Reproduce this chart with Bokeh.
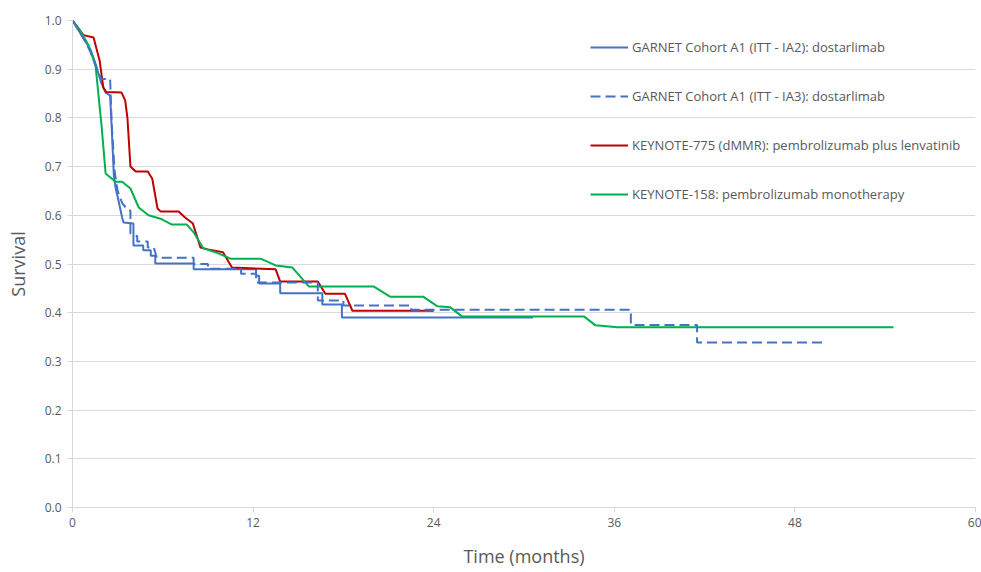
from bokeh.plotting import figure
from bokeh.models import Range1d, FixedTicker, PrintfTickFormatter, Legend, LegendItem
from bokeh.embed import file_html
from bokeh.resources import INLINE

# GARNET Cohort A1 (ITT - IA2): dostarlimab
ia2_t = [0, 0.4, 0.8, 1.2, 1.5, 1.9, 2.2, 2.5, 2.6, 2.75, 2.86, 3.06, 3.3, 3.4, 4.05, 4.05, 4.7, 4.7, 5.2, 5.2,
         5.5, 5.5, 8.05, 8.05, 12.2, 12.2, 12.4, 12.4, 13.8, 13.8, 16.6, 16.6, 17.9, 17.9, 30.6]
ia2_s = [1.0, 0.98, 0.96, 0.94, 0.914, 0.873, 0.852, 0.846, 0.784, 0.68, 0.657, 0.63, 0.595, 0.585, 0.583, 0.538,
         0.538, 0.528, 0.528, 0.517, 0.517, 0.501, 0.501, 0.489, 0.489, 0.476, 0.476, 0.46, 0.46, 0.44, 0.44,
         0.417, 0.417, 0.39, 0.39]

# GARNET Cohort A1 (ITT - IA3): dostarlimab
ia3_t = [0, 0.4, 0.8, 1.2, 1.5, 1.9, 2.0, 2.5, 2.6, 2.8, 3.0, 3.3, 3.7, 3.85, 3.85, 4.3, 4.3, 5.0, 5.0, 5.4, 5.6,
         8.05, 8.05, 9.0, 9.0, 11.2, 11.2, 12.2, 12.2, 16.3, 16.3, 18.0, 18.0, 22.5, 22.5, 37.1, 37.1, 41.5, 41.5, 49.8]
ia3_s = [1.0, 0.98, 0.96, 0.935, 0.91, 0.88, 0.88, 0.88, 0.79, 0.69, 0.65, 0.625, 0.61, 0.61, 0.563, 0.557, 0.546,
         0.546, 0.534, 0.534, 0.513, 0.513, 0.5, 0.5, 0.49, 0.49, 0.48, 0.48, 0.462, 0.462, 0.425, 0.425, 0.415,
         0.415, 0.406, 0.406, 0.375, 0.375, 0.339, 0.339]

# KEYNOTE-775 (dMMR): pembrolizumab plus lenvatinib
k775_t = [0, 0.73, 1.4, 1.8, 2.05, 2.25, 3.26, 3.5, 3.65, 3.85, 4.2, 5.0, 5.3, 5.65, 5.85, 7.05, 7.5, 8.0, 8.5,
          9.0, 10.0, 10.6, 13.5, 13.8, 16.3, 16.8, 18.1, 18.6, 24.0]
k775_s = [1.0, 0.97, 0.965, 0.918, 0.862, 0.853, 0.852, 0.836, 0.80, 0.70, 0.69, 0.69, 0.675, 0.614, 0.608, 0.608,
          0.595, 0.583, 0.534, 0.53, 0.524, 0.493, 0.489, 0.464, 0.464, 0.439, 0.439, 0.404, 0.404]

# KEYNOTE-158: pembrolizumab monotherapy
k158_t = [0, 0.5, 1.06, 1.53, 1.93, 2.2, 2.86, 3.3, 3.85, 4.4, 5.05, 5.85, 6.6, 7.6, 8.05, 8.7, 9.6, 10.5, 12.5,
          13.5, 14.6, 15.7, 20.0, 21.1, 23.3, 24.25, 25.1, 25.9, 34.0, 34.75, 36.2, 54.55]
k158_s = [1.0, 0.98, 0.949, 0.908, 0.784, 0.686, 0.669, 0.669, 0.655, 0.616, 0.6, 0.593, 0.581, 0.581, 0.565,
          0.532, 0.523, 0.511, 0.511, 0.497, 0.493, 0.454, 0.454, 0.433, 0.433, 0.413, 0.411, 0.392, 0.392, 0.374,
          0.37, 0.37]

labels = ["GARNET Cohort A1 (ITT - IA2): dostarlimab",
          "GARNET Cohort A1 (ITT - IA3): dostarlimab",
          "KEYNOTE-775 (dMMR): pembrolizumab plus lenvatinib",
          "KEYNOTE-158: pembrolizumab monotherapy"]
x_ticks = [0, 12, 24, 36, 48, 60]
y_ticks = [0.0, 0.1, 0.2, 0.3, 0.4, 0.5, 0.6, 0.7, 0.8, 0.9, 1.0]

FONT = "Open Sans"
TXT = "#595959"
GRID = "#d9d9d9"

p = figure(width=981, height=572, output_backend="svg", toolbar_location=None,
           x_range=Range1d(0, 60), y_range=Range1d(0, 1.0),
           min_border_left=72, min_border_right=6, min_border_top=20, min_border_bottom=65)
p.outline_line_color = None
p.background_fill_color = "white"

p.xgrid.grid_line_color = None
p.ygrid.grid_line_color = GRID
p.ygrid.grid_line_width = 1

p.xaxis.ticker = FixedTicker(ticks=x_ticks)
p.yaxis.ticker = FixedTicker(ticks=y_ticks)
p.yaxis.formatter = PrintfTickFormatter(format="%.1f")
for ax in (p.xaxis[0], p.yaxis[0]):
    ax.axis_line_color = GRID
    ax.major_tick_line_color = GRID
    ax.major_tick_in = 0
    ax.major_tick_out = 5
    ax.minor_tick_line_color = None
    ax.major_label_text_font = FONT
    ax.major_label_text_font_size = "12px"
    ax.major_label_text_color = TXT
    ax.axis_label_text_font = FONT
    ax.axis_label_text_font_size = "18px"
    ax.axis_label_text_font_style = "normal"
    ax.axis_label_text_color = TXT
p.xaxis.axis_label = "Time (months)"
p.yaxis.axis_label = "Survival"
p.xaxis.major_label_standoff = 5
p.xaxis.axis_label_standoff = 14
p.yaxis.major_label_standoff = 6
p.yaxis.axis_label_standoff = 12

r1 = p.line(ia2_t, ia2_s, line_color="#4472C4", line_width=2)
r3 = p.line(k775_t, k775_s, line_color="#C00000", line_width=2)
r4 = p.line(k158_t, k158_s, line_color="#00B050", line_width=2)
r2 = p.line(ia3_t, ia3_s, line_color="#4472C4", line_width=2, line_dash="10 5")

legend = Legend(items=[LegendItem(label=labels[0], renderers=[r1]),
                       LegendItem(label=labels[1], renderers=[r2]),
                       LegendItem(label=labels[2], renderers=[r3]),
                       LegendItem(label=labels[3], renderers=[r4])],
                location=(518, 303), orientation="vertical",
                background_fill_alpha=0, border_line_alpha=0,
                padding=0, margin=0, spacing=29,
                label_height=20, glyph_height=20, glyph_width=38, label_standoff=4,
                label_text_font=FONT, label_text_font_size="13px", label_text_color=TXT)
p.add_layout(legend)

open("out.html", "w").write(file_html(p, INLINE))
